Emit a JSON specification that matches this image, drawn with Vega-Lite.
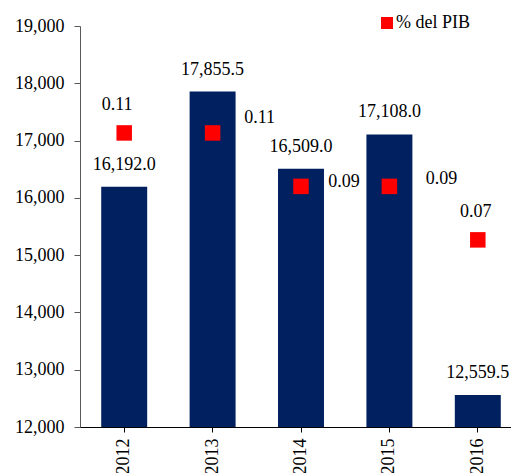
{
  "$schema": "https://vega.github.io/schema/vega-lite/v6.json",
  "width": 442,
  "height": 401,
  "autosize": "none",
  "padding": {"left": 80, "top": 26, "right": 0, "bottom": 46},
  "background": "white",
  "title": {"text": "(millones de pesos)", "font": "Liberation Serif, Times New Roman, serif", "fontSize": 20, "fontWeight": "bold", "offset": 15, "dx": -9, "anchor": "middle", "color": "black"},
  "config": {"view": {"stroke": null}, "font": "Liberation Serif, Times New Roman, serif"},
  "data": {"values": [
    {"year": "2012", "monto": 16192.0, "pib": 0.11},
    {"year": "2013", "monto": 17855.5, "pib": 0.11},
    {"year": "2014", "monto": 16509.0, "pib": 0.09},
    {"year": "2015", "monto": 17108.0, "pib": 0.09},
    {"year": "2016", "monto": 12559.5, "pib": 0.07}
  ]},
  "encoding": {
    "x": {"field": "year", "type": "ordinal", "scale": {"paddingInner": 0.48, "paddingOuter": 0.24},
      "axis": {"title": null, "labelAngle": 270, "labelAlign": "right", "labelBaseline": "middle", "labelFont": "Liberation Serif, Times New Roman, serif", "labelFontSize": 18, "labelColor": "black", "labelPadding": 6, "domainColor": "black", "tickColor": "black", "tickSize": 5, "zindex": 1}}
  },
  "layer": [
    {
      "layer": [
        {"mark": {"type": "bar", "color": "#002060"},
         "encoding": {"y": {"field": "monto", "type": "quantitative", "scale": {"domain": [12000, 19000], "zero": false, "nice": false},
           "axis": {"title": null, "values": [12000, 13000, 14000, 15000, 16000, 17000, 18000, 19000], "format": ",.0f", "grid": false, "tickSize": 6, "labelPadding": 10, "labelFont": "Liberation Serif, Times New Roman, serif", "labelFontSize": 18, "labelColor": "black", "domainColor": "#595959", "tickColor": "#595959"}},
           "y2": {"datum": 12000}}},
        {"mark": {"type": "text", "dy": -22, "baseline": "middle", "fontSize": 18, "color": "black"},
         "encoding": {"y": {"field": "monto", "type": "quantitative"}, "text": {"field": "monto", "type": "quantitative", "format": ",.1f"}}}
      ]
    },
    {
      "layer": [
        {"mark": {"type": "point", "shape": "square", "filled": true, "size": 240, "opacity": 1},
         "encoding": {"y": {"field": "pib", "type": "quantitative", "scale": {"domain": [0, 0.15], "nice": false}, "axis": null},
           "color": {"datum": "% del PIB", "type": "nominal", "scale": {"range": ["#FF0000"]},
             "legend": {"title": null, "orient": "none", "legendX": 298, "legendY": -12, "symbolType": "square", "symbolSize": 144, "labelFont": "Liberation Serif, Times New Roman, serif", "labelFontSize": 18, "labelColor": "black", "labelOffset": 0, "symbolStrokeWidth": 0}}}},
        {"transform": [{"filter": "datum.year == '2012'"}],
         "mark": {"type": "text", "dx": -7, "dy": -28, "baseline": "middle", "fontSize": 18, "color": "black"},
         "encoding": {"y": {"field": "pib", "type": "quantitative"}, "text": {"field": "pib", "type": "quantitative", "format": ".2f"}}},
        {"transform": [{"filter": "datum.year == '2013'"}],
         "mark": {"type": "text", "dx": 47, "dy": -15, "baseline": "middle", "fontSize": 18, "color": "black"},
         "encoding": {"y": {"field": "pib", "type": "quantitative"}, "text": {"field": "pib", "type": "quantitative", "format": ".2f"}}},
        {"transform": [{"filter": "datum.year == '2014'"}],
         "mark": {"type": "text", "dx": 43, "dy": -4, "baseline": "middle", "fontSize": 18, "color": "black"},
         "encoding": {"y": {"field": "pib", "type": "quantitative"}, "text": {"field": "pib", "type": "quantitative", "format": ".2f"}}},
        {"transform": [{"filter": "datum.year == '2015'"}],
         "mark": {"type": "text", "dx": 52, "dy": -7, "baseline": "middle", "fontSize": 18, "color": "black"},
         "encoding": {"y": {"field": "pib", "type": "quantitative"}, "text": {"field": "pib", "type": "quantitative", "format": ".2f"}}},
        {"transform": [{"filter": "datum.year == '2016'"}],
         "mark": {"type": "text", "dx": -2, "dy": -28, "baseline": "middle", "fontSize": 18, "color": "black"},
         "encoding": {"y": {"field": "pib", "type": "quantitative"}, "text": {"field": "pib", "type": "quantitative", "format": ".2f"}}}
      ]
    }
  ],
  "resolve": {"scale": {"y": "independent"}}
}
